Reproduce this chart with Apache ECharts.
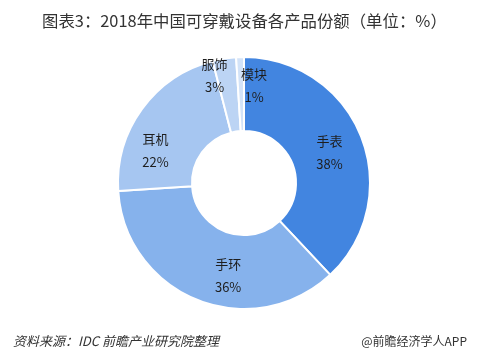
<!DOCTYPE html>
<html>
<head>
<meta charset="utf-8">
<script src="https://cdn.jsdelivr.net/npm/echarts@6/dist/echarts.min.js"></script>
<style>
html,body{margin:0;padding:0;background:#fff;}
#c{width:480px;height:363px;}
</style>
</head>
<body>
<div id="c"></div>
<script>
var categories = ['手表', '手环', '耳机', '服饰', '模块'];
var shares = [38, 36, 22, 3, 1];
var colors = ['#4285E0', '#86B2EC', '#A6C6F1', '#BCD4F4', '#D3E3F8'];
var labelShift = [[0, 3], [18, 7], [-14, 22], [-15, -17], [13, -5]];

var chart = echarts.init(document.getElementById('c'));
var FONT = '"Noto Sans CJK SC", "Noto Sans", sans-serif';
chart.setOption({
  animation: false,
  backgroundColor: '#fff',
  title: [{
    text: '图表3：2018年中国可穿戴设备各产品份额（单位：%）',
    left: 37, top: 8,
    textStyle: {fontSize: 16.4, fontWeight: 'normal', color: '#333', fontFamily: FONT}
  }, {
    text: '资料来源：IDC 前瞻产业研究院整理',
    left: 8, top: 330,
    textStyle: {fontSize: 13, fontWeight: 'normal', fontStyle: 'italic', color: '#333', fontFamily: FONT}
  }, {
    text: '@前瞻经济学人APP',
    right: 8, top: 330,
    textStyle: {fontSize: 12, fontWeight: 'normal', color: '#333', fontFamily: FONT}
  }],
  series: [{
    type: 'pie',
    center: [244, 183],
    radius: [52, 126],
    startAngle: 90,
    clockwise: true,
    avoidLabelOverlap: false,
    itemStyle: {borderColor: '#fff', borderWidth: 2},
    label: {
      show: true,
      position: 'inside',
      formatter: '{b}\n{c}%',
      fontSize: 13,
      lineHeight: 23,
      color: '#1e1e1e',
      fontFamily: FONT
    },
    labelLine: {show: false},
    labelLayout: function (p) {
      var s = labelShift[p.dataIndex];
      return {dx: s[0], dy: s[1]};
    },
    data: categories.map(function (n, i) {
      return {name: n, value: shares[i], itemStyle: {color: colors[i]}};
    })
  }]
});
</script>
</body>
</html>
